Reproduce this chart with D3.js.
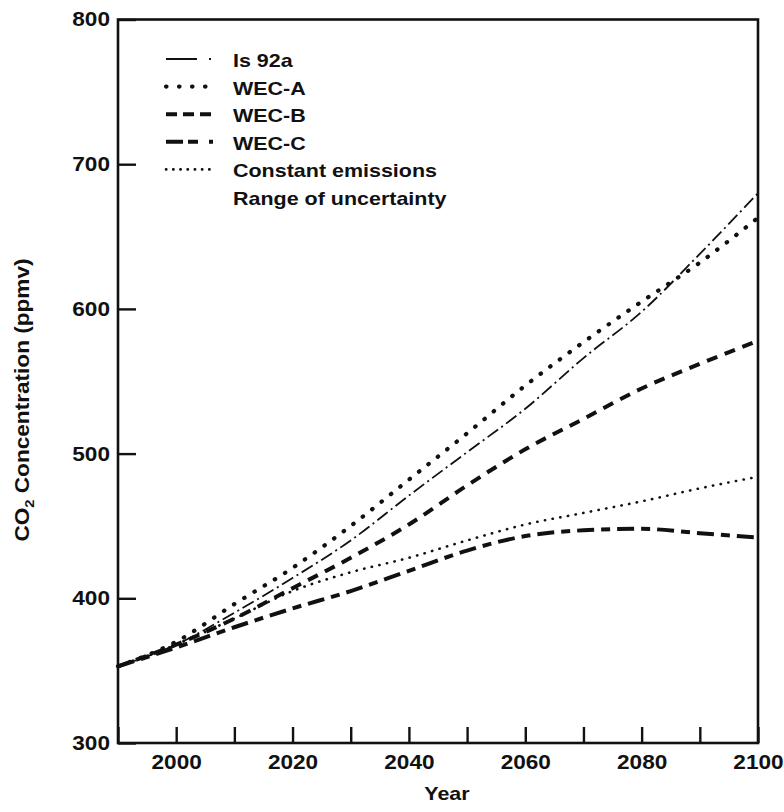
<!DOCTYPE html>
<html>
<head>
<meta charset="utf-8">
<script src="https://cdn.jsdelivr.net/npm/d3@7"></script>
<style>
  html, body { margin: 0; padding: 0; background: #fff; }
  svg { display: block; }
  text { font-family: "Liberation Sans", Arial, Helvetica, sans-serif; font-weight: bold; fill: #111; }
</style>
</head>
<body>
<svg id="chart" width="784" height="812"></svg>
<script>
// ---- data ----
const years      = [1990, 2000, 2010, 2020, 2030, 2040, 2050, 2060, 2070, 2080, 2090, 2100];
const is92a      = [353, 368, 390, 414, 440, 471, 501, 531, 566, 598, 638, 680];
const wecA       = [353, 370, 396, 421, 450, 482, 514, 547, 577, 605, 632, 663];
const wecB       = [353, 368, 386, 407, 428, 451, 478, 503, 524, 545, 562, 578];
const wecC       = [353, 366, 380, 393, 405, 419, 433, 443, 447, 448, 445, 442];
const constantEm = [353, 368, 386, 405, 418, 428, 440, 451, 459, 467, 476, 484];
const seriesNames = ["Is 92a", "WEC-A", "WEC-B", "WEC-C", "Constant emissions", "Range of uncertainty"];
const xTickValues = [1990, 2000, 2010, 2020, 2030, 2040, 2050, 2060, 2070, 2080, 2090, 2100];
const xTickLabels = ["", "2000", "", "2020", "", "2040", "", "2060", "", "2080", "", "2100"];
const yTickValues = [300, 400, 500, 600, 700, 800];
const yTickLabels = ["300", "400", "500", "600", "700", "800"];

// ---- styles ----
const styles = {
  "Is 92a":             { w: 1.8, dash: "13,4,2,4", legendDash: "31,12,2,30", cap: "butt" },
  "WEC-A":              { w: 4.2, dash: "0.5,11.5", legendDash: "0.5,12.5", cap: "round" },
  "WEC-B":              { w: 4.0, dash: "11,8", legendDash: "11,6", cap: "butt" },
  "WEC-C":              { w: 4.0, dash: "17,7,9,7", legendDash: "17,5,10,11,5,30", cap: "butt" },
  "Constant emissions": { w: 2.6, dash: "0.3,7.5", legendDash: "0.3,6.9", cap: "round" },
  "Range of uncertainty": null
};
const seriesData = {
  "Is 92a": is92a, "WEC-A": wecA, "WEC-B": wecB, "WEC-C": wecC, "Constant emissions": constantEm
};

const svg = d3.select("#chart");
const mLeft = 118, mRight = 758, mTop = 19.5, mBottom = 743;
const x = d3.scaleLinear().domain([1990, 2100]).range([mLeft, mRight]);
const y = d3.scaleLinear().domain([300, 800]).range([mBottom, mTop]);
const STRETCH = 1.13;
function stretch(sel) {
  sel.each(function() {
    const len = this.getComputedTextLength();
    d3.select(this).attr("textLength", len * STRETCH).attr("lengthAdjust", "spacingAndGlyphs");
  });
}

// axes
const xAxis = d3.axisBottom(x).tickValues(xTickValues).tickSize(-16).tickPadding(12)
  .tickFormat((d, i) => xTickLabels[i]);
const gx = svg.append("g").attr("transform", `translate(0,${mBottom})`).call(xAxis);
gx.select(".domain").remove();
gx.selectAll("line").attr("stroke", "#111").attr("stroke-width", 2.4);
gx.selectAll("text").attr("font-size", 20).attr("fill", "#111").call(stretch);

const yAxis = d3.axisLeft(y).tickValues(yTickValues).tickSize(-18).tickPadding(8)
  .tickFormat((d, i) => yTickLabels[i]);
const gy = svg.append("g").attr("transform", `translate(${mLeft},0)`).call(yAxis);
gy.select(".domain").remove();
gy.selectAll("line").attr("stroke", "#111").attr("stroke-width", 2.4);
gy.selectAll("text").attr("font-size", 20).attr("fill", "#111").call(stretch);

// frame
svg.append("rect").attr("x", mLeft).attr("y", mTop)
  .attr("width", mRight - mLeft).attr("height", mBottom - mTop)
  .attr("fill", "none").attr("stroke", "#111").attr("stroke-width", 2.6);

// lines
const line = d3.line().x((d, i) => x(years[i])).y(d => y(d)).curve(d3.curveMonotoneX);
const plotted = seriesNames.filter(n => seriesData[n]);
svg.append("g").selectAll("path").data(plotted).join("path")
  .attr("d", n => line(seriesData[n]))
  .attr("fill", "none").attr("stroke", "#111")
  .attr("stroke-width", n => styles[n].w)
  .attr("stroke-dasharray", n => styles[n].dash)
  .attr("stroke-linecap", n => styles[n].cap);

// legend
const lg = svg.append("g");
const rows = lg.selectAll("g").data(seriesNames).join("g")
  .attr("transform", (d, i) => `translate(0,${67 + i * 27.6})`);
rows.filter(n => styles[n]).append("line")
  .attr("x1", 166).attr("x2", 213).attr("y1", -8).attr("y2", -8)
  .attr("stroke", "#111")
  .attr("stroke-width", n => styles[n].w)
  .attr("stroke-dasharray", n => styles[n].legendDash)
  .attr("stroke-linecap", n => styles[n].cap);
rows.append("text").attr("x", 233).attr("y", 0).attr("font-size", 19).text(d => d).call(stretch);

// axis titles
const yt = svg.append("text").attr("transform", "translate(29,400) rotate(-90)")
  .attr("text-anchor", "middle").attr("font-size", 20);
yt.append("tspan").text("CO");
yt.append("tspan").attr("font-size", 13).attr("dy", 5).text("2");
yt.append("tspan").attr("dy", -5).text(" Concentration (ppmv)");
stretch(yt);

svg.append("text").attr("x", 447).attr("y", 800).attr("text-anchor", "middle")
  .attr("font-size", 19).text("Year").call(stretch);
</script>
</body>
</html>
